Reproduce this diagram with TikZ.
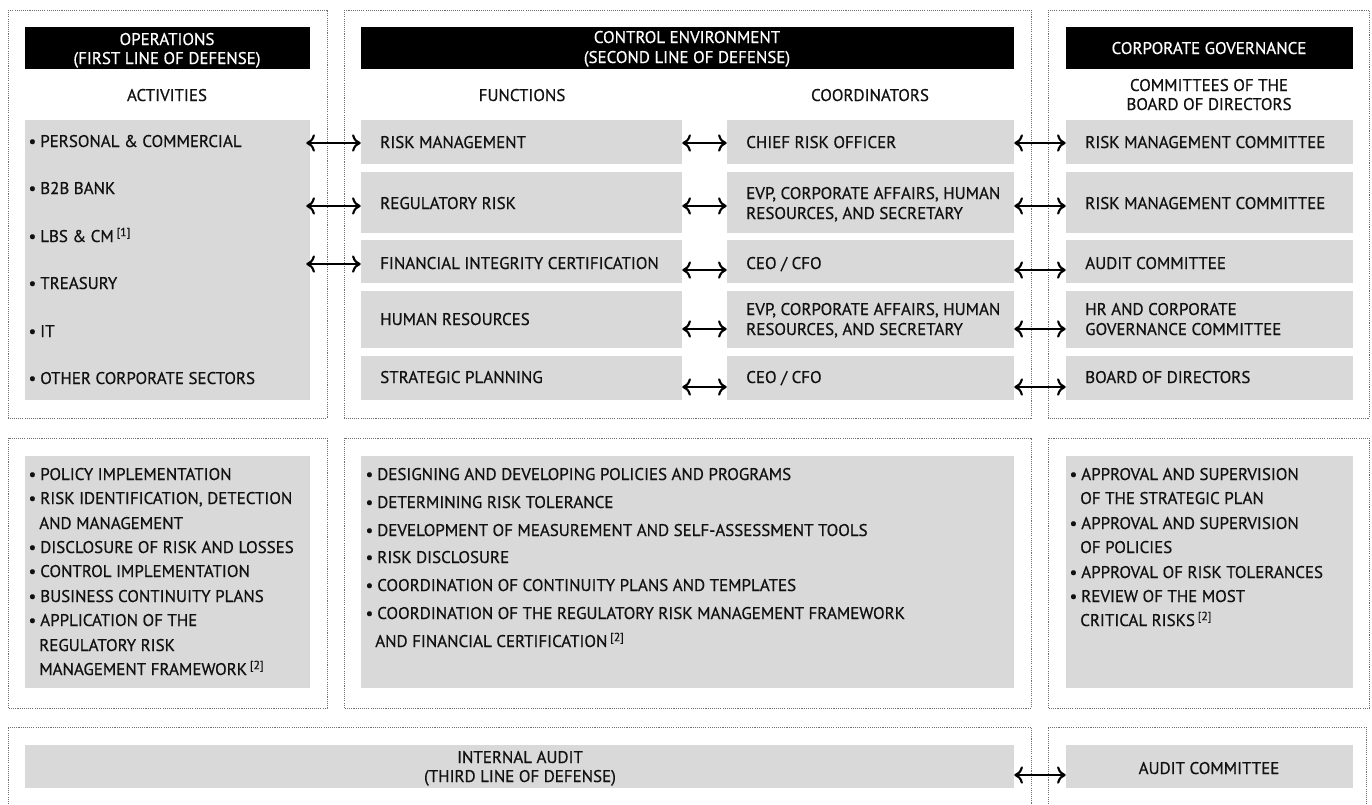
\documentclass[tikz,border=0pt]{standalone}
\usepackage{fontspec}
\setmainfont{PT Sans}
\newfontfamily\medfont{PT Sans}[FakeBold=0.6]
\usetikzlibrary{fit,arrows.meta}
\definecolor{boxgray}{HTML}{D9D9D9}
\definecolor{ink}{HTML}{111111}
\definecolor{framegray}{HTML}{707070}
\newcommand{\bul}{\llap{\textbullet\hspace{3pt}}}
\newcommand{\fn}[1]{\,\textsuperscript{[#1]}}
\begin{document}
\begin{tikzpicture}[x=0.75pt,y=-0.75pt,
  frame/.style={draw=framegray, line width=0.7pt, dash pattern=on 0.8pt off 0.8pt},
  gbox/.style={fill=boxgray, draw=none, inner sep=0pt},
  hbox/.style={fill=black, draw=none, inner sep=0pt},
  txt/.style={font=\medfont\fontsize{12.7}{14}\selectfont, text=ink, inner sep=0pt, anchor=base west},
  ctxt/.style={txt, anchor=base},
  htxt/.style={ctxt, text=white},
  arr/.style={{To[length=6.5pt,width=13pt]}-{To[length=6.5pt,width=13pt]}, line width=1.6pt, black}
]
\useasboundingbox (0,0) rectangle (1372,804);
% frames
\draw[frame] (8,10) rectangle (327,418);
\draw[frame] (344,10) rectangle (1031,418);
\draw[frame] (1048,10) rectangle (1369,418);
\draw[frame] (8,438) rectangle (327,708);
\draw[frame] (344,438) rectangle (1031,708);
\draw[frame] (1048,438) rectangle (1369,708);
\draw[frame] (8,804) -- (8,727) -- (1031,727) -- (1031,804);
\draw[frame] (1048,804) -- (1048,727) -- (1366,727) -- (1366,804);
% headers
\node[hbox, fit={(25,27)(310,69)}] (h1) {};
\node[hbox, fit={(361,27)(1014,69)}] (h2) {};
\node[hbox, fit={(1066,27)(1353,69)}] (h3) {};
\node[htxt] (h1a) at (167,45) {OPERATIONS};
\node[htxt] (h1b) at (167,64) {(FIRST LINE OF DEFENSE)};
\node[htxt] (h2a) at (687,43) {CONTROL ENVIRONMENT};
\node[htxt] (h2b) at (687,63) {(SECOND LINE OF DEFENSE)};
\node[htxt] (h3a) at (1209,54) {CORPORATE GOVERNANCE};
% subheaders
\node[ctxt] (s1) at (167,101) {ACTIVITIES};
\node[ctxt] (s2) at (522,101) {FUNCTIONS};
\node[ctxt] (s3) at (870,101) {COORDINATORS};
\node[ctxt] (s4a) at (1209,91) {COMMITTEES OF THE};
\node[ctxt] (s4b) at (1209,110) {BOARD OF DIRECTORS};
% gray boxes
\node[gbox, fit={(25,120)(310,400)}] (act) {};
\node[gbox, fit={(361,120)(682,164)}] (f1) {};
\node[gbox, fit={(361,172)(682,233)}] (f2) {};
\node[gbox, fit={(361,240)(682,283)}] (f3) {};
\node[gbox, fit={(361,291)(682,348)}] (f4) {};
\node[gbox, fit={(361,356)(682,400)}] (f5) {};
\node[gbox, fit={(727,120)(1014,164)}] (c1) {};
\node[gbox, fit={(727,172)(1014,233)}] (c2) {};
\node[gbox, fit={(727,240)(1014,283)}] (c3) {};
\node[gbox, fit={(727,291)(1014,348)}] (c4) {};
\node[gbox, fit={(727,356)(1014,400)}] (c5) {};
\node[gbox, fit={(1066,120)(1353,164)}] (m1) {};
\node[gbox, fit={(1066,172)(1353,233)}] (m2) {};
\node[gbox, fit={(1066,240)(1353,283)}] (m3) {};
\node[gbox, fit={(1066,291)(1353,348)}] (m4) {};
\node[gbox, fit={(1066,356)(1353,400)}] (m5) {};
\node[gbox, fit={(25,456)(310,688)}] (b1) {};
\node[gbox, fit={(361,456)(1014,688)}] (b2) {};
\node[gbox, fit={(1066,456)(1353,688)}] (b3) {};
\node[gbox, fit={(25,745)(1014,788)}] (ia) {};
\node[gbox, fit={(1066,745)(1353,788)}] (ac) {};
% activities
\node[txt] (a1) at (40,147) {\bul PERSONAL \& COMMERCIAL};
\node[txt] (a2) at (40,194) {\bul B2B BANK};
\node[txt] (a3) at (40,242) {\bul LBS \& CM\fn{1}};
\node[txt] (a4) at (40,289) {\bul TREASURY};
\node[txt] (a5) at (40,337) {\bul IT};
\node[txt] (a6) at (40,384) {\bul OTHER CORPORATE SECTORS};
% functions
\node[txt] (ft1) at (380,148) {RISK MANAGEMENT};
\node[txt] (ft2) at (380,209) {REGULATORY RISK};
\node[txt] (ft3) at (380,269) {FINANCIAL INTEGRITY CERTIFICATION};
\node[txt] (ft4) at (380,325) {HUMAN RESOURCES};
\node[txt] (ft5) at (380,383) {STRATEGIC PLANNING};
% coordinators
\node[txt] (ct1) at (746,148) {CHIEF RISK OFFICER};
\node[txt] (ct2a) at (746,199) {EVP, CORPORATE AFFAIRS, HUMAN};
\node[txt] (ct2b) at (746,219) {RESOURCES, AND SECRETARY};
\node[txt] (ct3) at (746,269) {CEO / CFO};
\node[txt] (ct4a) at (746,315) {EVP, CORPORATE AFFAIRS, HUMAN};
\node[txt] (ct4b) at (746,335) {RESOURCES, AND SECRETARY};
\node[txt] (ct5) at (746,383) {CEO / CFO};
% committees
\node[txt] (mt1) at (1085,148) {RISK MANAGEMENT COMMITTEE};
\node[txt] (mt2) at (1085,209) {RISK MANAGEMENT COMMITTEE};
\node[txt] (mt3) at (1085,269) {AUDIT COMMITTEE};
\node[txt] (mt4a) at (1085,315) {HR AND CORPORATE};
\node[txt] (mt4b) at (1085,335) {GOVERNANCE COMMITTEE};
\node[txt] (mt5) at (1085,383) {BOARD OF DIRECTORS};
% middle left
\node[txt] (l1) at (40,480) {\bul POLICY IMPLEMENTATION};
\node[txt] (l2) at (40,504) {\bul RISK IDENTIFICATION, DETECTION};
\node[txt] (l3) at (39,529) {AND MANAGEMENT};
\node[txt] (l4) at (40,553) {\bul DISCLOSURE OF RISK AND LOSSES};
\node[txt] (l5) at (40,577) {\bul CONTROL IMPLEMENTATION};
\node[txt] (l6) at (40,602) {\bul BUSINESS CONTINUITY PLANS};
\node[txt] (l7) at (40,626) {\bul APPLICATION OF THE};
\node[txt] (l8) at (39,651) {REGULATORY RISK};
\node[txt] (l9) at (39,675) {MANAGEMENT FRAMEWORK\fn{2}};
% middle center
\node[txt] (n1) at (377,480) {\bul DESIGNING AND DEVELOPING POLICIES AND PROGRAMS};
\node[txt] (n2) at (377,508) {\bul DETERMINING RISK TOLERANCE};
\node[txt] (n3) at (377,536) {\bul DEVELOPMENT OF MEASUREMENT AND SELF-ASSESSMENT TOOLS};
\node[txt] (n4) at (377,563) {\bul RISK DISCLOSURE};
\node[txt] (n5) at (377,591) {\bul COORDINATION OF CONTINUITY PLANS AND TEMPLATES};
\node[txt] (n6) at (377,619) {\bul COORDINATION OF THE REGULATORY RISK MANAGEMENT FRAMEWORK};
\node[txt] (n7) at (375,647) {AND FINANCIAL CERTIFICATION\fn{2}};
% middle right
\node[txt] (r1) at (1081,480) {\bul APPROVAL AND SUPERVISION};
\node[txt] (r2) at (1080,504) {OF THE STRATEGIC PLAN};
\node[txt] (r3) at (1081,529) {\bul APPROVAL AND SUPERVISION};
\node[txt] (r4) at (1080,553) {OF POLICIES};
\node[txt] (r5) at (1081,578) {\bul APPROVAL OF RISK TOLERANCES};
\node[txt] (r6) at (1081,602) {\bul REVIEW OF THE MOST};
\node[txt] (r7) at (1080,626) {CRITICAL RISKS\fn{2}};
% bottom
\node[ctxt] (ia1) at (520,763) {INTERNAL AUDIT};
\node[ctxt] (ia2) at (520,782) {(THIRD LINE OF DEFENSE)};
\node[ctxt] (act1) at (1209,774) {AUDIT COMMITTEE};
% arrows: activities - functions
\draw[arr, shorten <=-3pt] ([yshift=-0.75pt]act.east |- f1.west) -- ([yshift=-0.75pt]f1.west);
\draw[arr, shorten <=-3pt] ([yshift=-2.6pt]act.east |- f2.west) -- ([yshift=-2.6pt]f2.west);
\draw[arr, shorten <=-3pt] ([yshift=-1.9pt]act.east |- f3.west) -- ([yshift=-1.9pt]f3.west);
% functions - coordinators
\draw[arr] ([yshift=-0.75pt]f1.east) -- ([yshift=-0.75pt]c1.west);
\draw[arr] ([yshift=-2.6pt]f2.east) -- ([yshift=-2.6pt]c2.west);
\draw[arr] ([yshift=-6.4pt]f3.east) -- ([yshift=-6.4pt]c3.west);
\draw[arr] ([yshift=-7.1pt]f4.east) -- ([yshift=-7.1pt]c4.west);
\draw[arr] ([yshift=-6.75pt]f5.east) -- ([yshift=-6.75pt]c5.west);
% coordinators - committees
\draw[arr] ([yshift=-0.75pt]c1.east) -- ([yshift=-0.75pt]m1.west);
\draw[arr] ([yshift=-2.6pt]c2.east) -- ([yshift=-2.6pt]m2.west);
\draw[arr] ([yshift=-6.4pt]c3.east) -- ([yshift=-6.4pt]m3.west);
\draw[arr] ([yshift=-7.1pt]c4.east) -- ([yshift=-7.1pt]m4.west);
\draw[arr] ([yshift=-6.75pt]c5.east) -- ([yshift=-6.75pt]m5.west);
% internal audit - audit committee
\draw[arr] ([yshift=-6.4pt]ia.east) -- ([yshift=-6.4pt]ac.west);
\end{tikzpicture}
\end{document}
